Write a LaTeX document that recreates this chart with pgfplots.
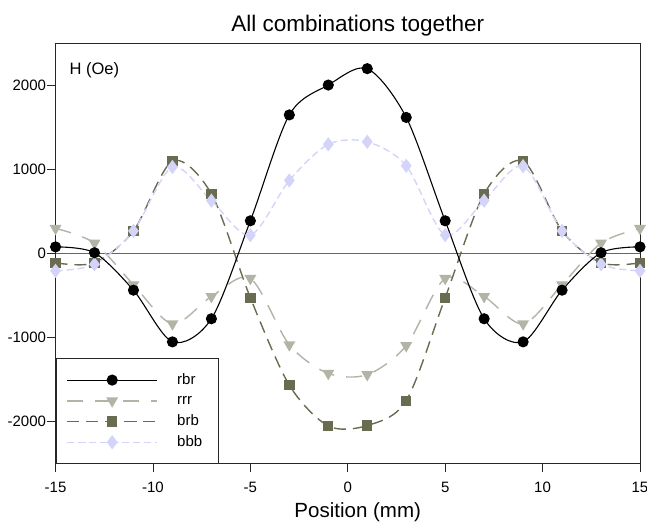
\documentclass[border=0pt]{standalone}
\usepackage{fontspec}
\setmainfont{Liberation Sans}
\usepackage{pgfplots}
\pgfplotsset{compat=1.18}
\definecolor{rrrC}{RGB}{178,180,165}
\definecolor{brbC}{RGB}{106,108,82}
\definecolor{bbbC}{RGB}{212,212,250}
\newcommand{\fs}[1]{\fontsize{#1}{1.2\dimexpr#1\relax}\selectfont}

\begin{document}
\begin{tikzpicture}
  \begin{axis}[
      width=584bp, height=420bp, scale only axis,
      xmin=-15, xmax=15, ymin=-2500, ymax=2500,
      xtick={-15,-10,...,15}, ytick={-2000,-1000,0,1000,2000},
      tick align=outside, tick pos=left, major tick length=9bp,
      axis line style={line width=0.8bp, black!85},
      tick style={line width=0.8bp, black!85},
      ticklabel style={font=\fs{15bp}},
      xticklabel style={yshift=-6bp},
      yticklabel style={xshift=3bp},
      /pgf/number format/assume math mode=true,
      /pgf/number format/1000 sep={},
      every axis title shift=0pt,
      title={All combinations together},
      title style={font=\fs{22.5bp}, at={(axis description cs:0.517,1)}, anchor=base, yshift=12bp},
      xlabel={Position (mm)},
      xlabel style={font=\fs{20.5bp}, at={(axis description cs:0.517,0)}, anchor=base, yshift=-54bp},
      legend style={at={(0,0)}, anchor=south west, draw=black!85, line width=0.8bp,
        inner xsep=0bp, inner ysep=11bp, fill=white,
        nodes={inner xsep=0bp, inner ysep=0bp, text height=15bp, text depth=5.7bp, anchor=base},
        font=\fs{15bp},
        legend image code/.code={%
          \path[draw=none, fill=none] (-11.2bp,4bp) -- (110bp,4bp);
          \draw[mark repeat=2, mark phase=2, #1] plot coordinates {(0bp,4bp) (45bp,4bp) (90bp,4bp)};}},
    ]
    \addplot[black!60, line width=0.8bp, forget plot] coordinates {(-15,0) (15,0)};

    \addlegendimage{black, line width=1.1bp, mark=*, mark size=5bp}
    \addlegendentry{\makebox[41bp][l]{rbr}}

    \addplot[rrrC, line width=1.4bp, dash pattern=on 16bp off 12bp, smooth,
      mark=triangle*, mark size=5.5bp, mark options={solid, rotate=180}]
      coordinates {(-15,295) (-13,120) (-11,-375) (-9,-840) (-7,-515) (-5,-300) (-3,-1090) (-1,-1430)
        (1,-1445) (3,-1100) (5,-300) (7,-515) (9,-840) (11,-375) (13,120) (15,295)};
    \addlegendentry{\makebox[41bp][l]{rrr}}

    \addplot[brbC, line width=1.4bp, dash pattern=on 12bp off 7bp, smooth,
      mark=square*, mark size=4.5bp, mark options={solid}]
      coordinates {(-15,-115) (-13,-115) (-11,265) (-9,1095) (-7,705) (-5,-530) (-3,-1570) (-1,-2055)
        (1,-2050) (3,-1755) (5,-530) (7,705) (9,1095) (11,265) (13,-115) (15,-115)};
    \addlegendentry{\makebox[41bp][l]{brb}}

    \addplot[bbbC, line width=1.4bp, dash pattern=on 7bp off 4bp, smooth,
      mark=diamond*, mark size=6bp, mark options={solid}]
      coordinates {(-15,-210) (-13,-132) (-11,265) (-9,1025) (-7,625) (-5,215) (-3,865) (-1,1295)
        (1,1325) (3,1040) (5,215) (7,625) (9,1035) (11,265) (13,-132) (15,-210)};
    \addlegendentry{\makebox[41bp][l]{bbb}}

    \addplot[black, line width=1.1bp, smooth, mark=*, mark size=5bp, forget plot]
      coordinates {(-15,75) (-13,5) (-11,-440) (-9,-1055) (-7,-780) (-5,385) (-3,1645) (-1,2000)
        (1,2195) (3,1615) (5,385) (7,-780) (9,-1055) (11,-440) (13,5) (15,75)};

    \node[anchor=base west, font=\fs{16.5bp}] at (rel axis cs:0,1) [xshift=10.5bp, yshift=-31bp] {H (Oe)};
  \end{axis}
  \pgfresetboundingbox
  \useasboundingbox ([xshift=-55.5bp,yshift=-59bp]current axis.south west)
    rectangle ([xshift=7bp,yshift=43bp]current axis.north east);
\end{tikzpicture}
\end{document}
